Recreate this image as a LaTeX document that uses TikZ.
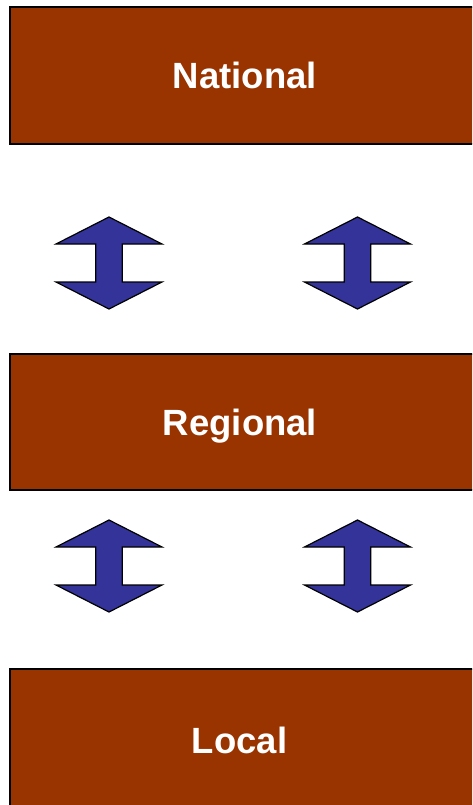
\documentclass[tikz,border=0pt]{standalone}
\usepackage{fontspec}
\setmainfont{Liberation Sans}
\definecolor{tierbrown}{HTML}{993300}
\definecolor{arrowblue}{HTML}{333399}
\tikzset{
  tierbox/.style={draw=black, line width=1.6pt, fill=tierbrown},
  tierlabel/.style={text=white, font=\bfseries\fontsize{36.5}{40}\selectfont, inner sep=0pt, anchor=base},
  pics/updown/.style={code={
    \path[draw=black, line width=1.2pt, fill=arrowblue, line join=miter]
      (0,-46) -- (53,-19) -- (13.3,-19) -- (13.3,19) -- (53,19) -- (0,46)
      -- (-53,19) -- (-13.3,19) -- (-13.3,-19) -- (-53,-19) -- cycle;
  }}
}
\begin{document}
\begin{tikzpicture}[x=1pt, y=-1pt]
  \useasboundingbox (0,0) rectangle (472,805);
  \clip (0,0) rectangle (472,805);
  % three tiers
  \draw[tierbox] (10,7) rectangle (482,144);
  \draw[tierbox] (10,354) rectangle (482,490);
  \draw[tierbox] (10,669) rectangle (482,815);
  \node[tierlabel] (national) at (244.8,88.3) {National};
  \node[tierlabel] (regional) at (240,435) {Regional};
  \node[tierlabel] (local) at (239.5,753.3) {Local};
  % two-way links between tiers
  \pic (nrleft) at (109,263) {updown};
  \pic (nrright) at (357.5,263) {updown};
  \pic (rlleft) at (109,566) {updown};
  \pic (rlright) at (357.5,566) {updown};
\end{tikzpicture}
\end{document}
